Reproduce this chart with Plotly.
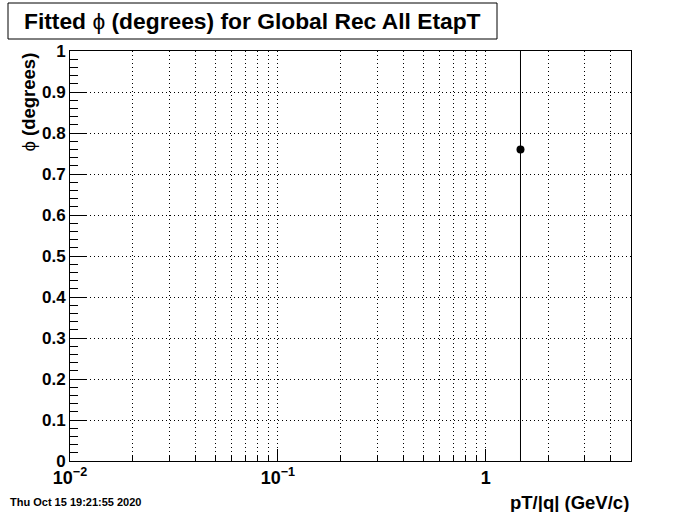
import plotly.graph_objects as go
import math

# Data
pt_values = [1.47]
phi_values = [0.76]
phi_errors = [1.6]

x_major_ticks = [0.01, 0.1, 1]
x_major_labels = ["10<sup>\u22122</sup>", "10<sup>\u22121</sup>", "1"]
x_minor_ticks = [m * d for d in [0.01, 0.1, 1] for m in range(2, 10) if m * d <= 5]
y_ticks = [0, 0.1, 0.2, 0.3, 0.4, 0.5, 0.6, 0.7, 0.8, 0.9, 1]
y_labels = ["0", "0.1", "0.2", "0.3", "0.4", "0.5", "0.6", "0.7", "0.8", "0.9", "1"]

title_text = "Fitted <span style='font-weight:normal'>\u03d5</span> (degrees) for Global Rec All EtapT"
x_title = "pT/|q| (GeV/c)"
y_title = "<span style='font-weight:normal'>\u03d5</span> (degrees)"
date_text = "Thu Oct 15 19:21:55 2020"

FONT = "Liberation Sans, Arial, sans-serif"
DOT = "1px,3px"

fig = go.Figure()
fig.add_trace(go.Scatter(
    x=pt_values, y=phi_values, mode="markers",
    marker=dict(symbol="circle", size=8, color="black"),
    error_y=dict(type="data", array=phi_errors, visible=True, color="black", thickness=1, width=0),
    cliponaxis=True, showlegend=False,
))

W, H = 700, 512
L, R, T, B = 70, 631, 51, 461
pw, ph = R - L, B - T

def px(x):
    return (x - L) / pw

def py(y):
    return (B - y) / ph

fig.update_layout(
    width=W, height=H,
    margin=dict(l=L, r=W - R, t=T, b=H - B, autoexpand=False),
    paper_bgcolor="white", plot_bgcolor="white",
    font=dict(family=FONT, color="black", size=17, weight="bold"),
    xaxis=dict(
        type="log", range=[-2, math.log10(5)],
        tickmode="array", tickvals=x_major_ticks, ticktext=x_major_labels,
        ticks="inside", ticklen=12, tickcolor="black", tickwidth=1,
        showgrid=True, gridcolor="black", griddash=DOT, gridwidth=1,
        minor=dict(tickmode="array", tickvals=x_minor_ticks, ticks="inside", ticklen=6,
                   tickcolor="black", showgrid=True, gridcolor="black", griddash=DOT, gridwidth=1),
        showline=True, linecolor="black", linewidth=1, mirror=True,
        zeroline=False,
        tickfont=dict(family=FONT, size=18, weight="bold"),
    ),
    yaxis=dict(
        range=[0, 1],
        tickmode="array", tickvals=y_ticks, ticktext=y_labels,
        ticks="inside", ticklen=16, tickcolor="black", tickwidth=1,
        ticklabelstandoff=0,
        showgrid=True, gridcolor="black", griddash=DOT, gridwidth=1,
        minor=dict(dtick=0.02, ticks="inside", ticklen=8, tickcolor="black", showgrid=False),
        showline=True, linecolor="black", linewidth=1, mirror=True,
        zeroline=False,
        tickfont=dict(family=FONT, size=17, weight="bold"),
    ),
    shapes=[dict(type="rect", xref="paper", yref="paper",
                 x0=px(8), x1=px(497), y0=py(39), y1=py(3),
                 line=dict(color="black", width=1), fillcolor="white")],
    annotations=[
        dict(text=title_text, xref="paper", yref="paper", x=px(252), y=py(21),
             xanchor="center", yanchor="middle", showarrow=False,
             font=dict(family=FONT, size=22.8, weight="bold")),
        dict(text=x_title, xref="paper", yref="paper", x=1, y=py(502),
             xanchor="right", yanchor="middle", showarrow=False,
             font=dict(family=FONT, size=18.5, weight="bold")),
        dict(text=y_title, xref="paper", yref="paper", x=px(28), y=1,
             xanchor="center", yanchor="top", textangle=-90, showarrow=False,
             font=dict(family=FONT, size=18.5, weight="bold")),
        dict(text=date_text, xref="paper", yref="paper", x=px(8), y=py(502),
             xanchor="left", yanchor="middle", showarrow=False,
             font=dict(family=FONT, size=11, weight="bold")),
    ],
)

fig.write_html("out.html", config={"displayModeBar": False},
               post_script="document.body.style.margin='0';document.body.style.padding='0';")
